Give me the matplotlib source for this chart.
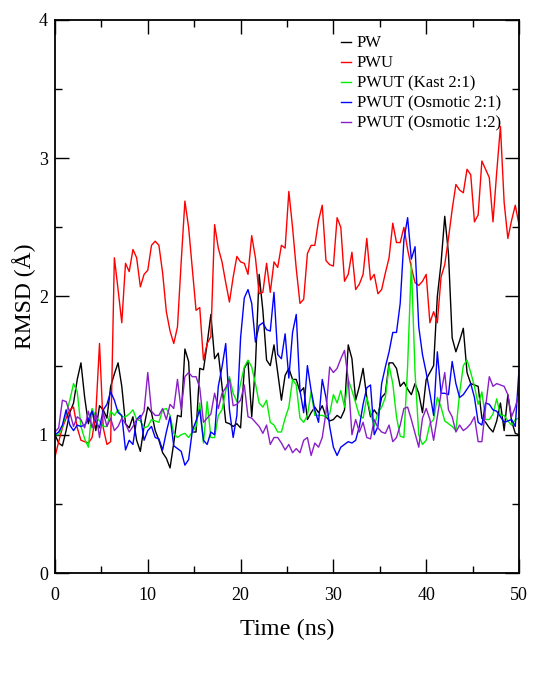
import numpy as np
import matplotlib
matplotlib.use('Agg')
import matplotlib.pyplot as plt
from matplotlib.ticker import MultipleLocator

# time grid (ns), one frame every 0.4 ns
time = np.arange(126) * 0.4

pw = [1.0, 0.94, 0.92, 1.03, 1.16, 1.23, 1.4, 1.52, 1.27, 1.08,
      1.18, 1.03, 1.21, 1.18, 1.12, 1.35, 1.44, 1.52, 1.35, 1.08,
      1.05, 1.13, 0.96, 0.88, 1.06, 1.2, 1.16, 1.03, 0.96, 0.87,
      0.83, 0.76, 0.94, 1.14, 1.13, 1.62, 1.53, 1.02, 1.02, 1.48,
      1.47, 1.66, 1.87, 1.55, 1.59, 1.35, 1.09, 1.08, 1.06, 1.08,
      1.05, 1.48, 1.53, 1.13, 1.5, 2.16, 1.9, 1.54, 1.5, 1.65,
      1.45, 1.25, 1.43, 1.48, 1.4, 1.4, 1.31, 1.34, 1.11, 1.16,
      1.2, 1.16, 1.21, 1.13, 1.1, 1.11, 1.14, 1.12, 1.18, 1.65,
      1.55, 1.25, 1.35, 1.48, 1.27, 1.13, 1.18, 1.14, 1.27, 1.3,
      1.52, 1.52, 1.48, 1.35, 1.38, 1.33, 1.29, 1.37, 1.3, 1.16,
      1.4, 1.45, 1.5, 2.0, 2.24, 2.58, 2.31, 1.7, 1.6, 1.68,
      1.77, 1.45, 1.37, 1.36, 1.35, 1.12, 1.09, 1.05, 1.02, 1.1,
      1.23, 1.03, 1.29, 1.1, 1.01, 1.0]

pwu = [0.84, 0.95, 1.05, 1.12, 1.18, 1.2, 1.05, 0.96, 0.95, 0.94,
       0.98, 1.15, 1.66, 1.05, 0.93, 0.95, 2.28, 2.05, 1.81, 2.24,
       2.18, 2.34, 2.28, 2.07, 2.16, 2.19, 2.37, 2.4, 2.37, 2.17,
       1.89, 1.75, 1.66, 1.78, 2.25, 2.69, 2.5, 2.2, 1.9, 1.92,
       1.54, 1.66, 1.71, 2.52, 2.35, 2.25, 2.1, 1.96, 2.14, 2.29,
       2.25, 2.24, 2.16, 2.44, 2.28, 2.02, 2.03, 2.24, 2.03, 2.25,
       2.21, 2.37, 2.35, 2.76, 2.5, 2.2, 1.95, 1.98, 2.31, 2.37,
       2.37, 2.55, 2.66, 2.26, 2.23, 2.22, 2.57, 2.5, 2.11, 2.16,
       2.32, 2.05, 2.09, 2.16, 2.42, 2.12, 2.16, 2.02, 2.05, 2.17,
       2.28, 2.53, 2.39, 2.39, 2.5, 2.34, 2.21, 2.1, 2.08, 2.11,
       2.16, 1.81, 1.89, 1.81, 2.14, 2.23, 2.42, 2.63, 2.81, 2.77,
       2.75, 2.92, 2.88, 2.54, 2.59, 2.98, 2.92, 2.86, 2.54, 2.9,
       3.23, 2.68, 2.42, 2.55, 2.66, 2.52]

kast_21 = [1.0, 1.0, 1.06, 1.15, 1.25, 1.37, 1.31, 1.06, 0.97, 0.91,
           1.19, 1.13, 1.1, 1.06, 1.06, 1.17, 1.14, 1.18, 1.13, 1.13,
           1.15, 1.18, 1.11, 1.1, 1.05, 1.06, 1.11, 1.1, 1.09, 1.18,
           1.19, 1.14, 1.01, 0.98, 1.0, 1.01, 0.98, 1.02, 1.06, 1.23,
           0.94, 1.24, 0.98, 0.98, 1.14, 1.18, 1.32, 1.42, 1.3, 1.24,
           1.37, 1.49, 1.54, 1.49, 1.37, 1.23, 1.2, 1.25, 1.09, 1.07,
           1.02, 1.02, 1.12, 1.2, 1.4, 1.36, 1.12, 1.09, 1.14, 1.31,
           1.14, 1.14, 1.14, 1.13, 1.15, 1.29, 1.23, 1.32, 1.2, 1.4,
           1.32, 1.23, 1.14, 1.12, 1.27, 1.16, 1.06, 1.16, 1.2, 1.27,
           1.5, 1.37, 1.13, 0.99, 0.98, 1.5, 2.24, 1.45, 1.0, 0.93,
           0.96, 1.08, 1.11, 1.27, 1.2, 1.1, 1.08, 1.06, 1.03, 1.3,
           1.5, 1.54, 1.45, 1.35, 1.22, 1.31, 1.11, 1.11, 1.15, 1.26,
           1.14, 1.14, 1.1, 1.07, 1.11, 1.12]

osm_21 = [1.0, 1.02, 1.07, 1.18, 1.07, 1.03, 1.07, 1.06, 1.07, 1.11,
          1.17, 1.09, 1.05, 1.18, 1.22, 1.31, 1.25, 1.16, 1.14, 0.89,
          0.96, 0.93, 1.11, 1.14, 0.96, 1.03, 1.06, 0.98, 0.97, 0.89,
          1.02, 1.13, 0.92, 0.9, 0.88, 0.78, 0.82, 1.03, 1.1, 1.18,
          0.96, 0.93, 1.02, 1.0, 1.35, 1.49, 1.66, 1.18, 0.98, 1.14,
          1.7, 1.99, 2.05, 1.95, 1.67, 1.79, 1.81, 1.76, 1.75, 2.03,
          1.58, 1.55, 1.73, 1.41, 1.74, 1.87, 1.32, 1.16, 1.5, 1.32,
          1.18, 1.09, 1.4, 1.27, 1.06, 0.91, 0.85, 0.91, 0.93, 0.95,
          0.94, 0.96, 1.06, 1.22, 1.34, 1.36, 1.0, 1.06, 1.37, 1.49,
          1.6, 1.74, 1.74, 1.95, 2.41, 2.57, 2.27, 2.36, 1.78, 1.58,
          1.45, 1.3, 1.14, 1.6, 1.3, 1.3, 1.29, 1.53, 1.37, 1.27,
          1.29, 1.33, 1.37, 1.27, 1.09, 1.07, 1.23, 1.22, 1.18, 1.17,
          1.13, 1.09, 1.1, 1.11, 1.06, 1.47]

osm_12 = [1.02, 1.05, 1.25, 1.24, 1.16, 1.06, 1.13, 1.11, 1.05, 1.17,
          1.05, 1.16, 0.98, 1.16, 1.06, 1.12, 1.03, 1.06, 1.12, 1.08,
          1.02, 1.06, 1.11, 1.12, 1.17, 1.45, 1.17, 1.14, 1.14, 1.19,
          1.11, 1.22, 1.19, 1.4, 1.18, 1.42, 1.45, 1.42, 1.42, 1.34,
          1.09, 1.12, 1.15, 1.3, 1.19, 1.3, 1.34, 1.4, 1.21, 1.22,
          1.25, 1.36, 1.13, 1.12, 1.09, 1.06, 1.01, 1.07, 0.93, 0.98,
          0.98, 0.94, 0.89, 0.93, 0.87, 0.9, 0.87, 0.96, 0.98, 0.85,
          0.94, 0.91, 0.98, 1.16, 1.49, 1.45, 1.48, 1.55, 1.61, 1.4,
          1.0, 1.11, 1.02, 1.09, 0.98, 0.97, 1.11, 1.05, 1.02, 1.01,
          1.07, 0.95, 0.98, 1.07, 1.19, 1.2, 1.11, 1.01, 0.91, 1.12,
          1.19, 1.11, 0.96, 1.13, 1.3, 1.45, 1.18, 1.13, 1.02, 1.07,
          1.03, 1.05, 1.08, 1.13, 0.95, 0.95, 1.2, 1.42, 1.35, 1.37,
          1.36, 1.35, 1.29, 1.13, 1.2, 1.3]

labels = ['PW', 'PWU', 'PWUT (Kast 2:1)', 'PWUT (Osmotic 2:1)', 'PWUT (Osmotic 1:2)']
colors = ['black', 'red', '#00ee00', 'blue', '#8a1fc8']

plt.rcParams['font.family'] = ['Liberation Serif', 'DejaVu Serif']

fig = plt.figure(figsize=(5.47, 6.77), dpi=100)
ax = fig.add_axes([0.1005, 0.1536, 0.8483, 0.8169])

for series, lab, col in zip([pw, pwu, kast_21, osm_21, osm_12], labels, colors):
    ax.plot(time, series, color=col, lw=1.0, label=lab)

ax.set_xlim(0, 50)
ax.set_ylim(0, 4)
ax.xaxis.set_major_locator(MultipleLocator(10))
ax.xaxis.set_minor_locator(MultipleLocator(5))
ax.yaxis.set_major_locator(MultipleLocator(1))
ax.yaxis.set_minor_locator(MultipleLocator(0.5))
ax.tick_params(which='both', direction='in', top=True, right=True, width=1.0)
ax.tick_params(which='major', length=10, labelsize=13)
ax.tick_params(axis='x', which='major', pad=10)
ax.tick_params(axis='y', which='major', pad=5)
ax.tick_params(which='minor', length=5)
for sp in ax.spines.values():
    sp.set_linewidth(1.3)

ax.set_xlabel('Time (ns)', fontsize=17.5, labelpad=11)
ax.set_ylabel('RMSD (Å)', fontsize=17, labelpad=2)

ax.legend(loc='upper left', bbox_to_anchor=(0.602, 0.984), frameon=False,
          fontsize=12, handlelength=0.6, handletextpad=0.35,
          labelspacing=0.24, borderaxespad=0)

fig.savefig('out.png', dpi=100)
